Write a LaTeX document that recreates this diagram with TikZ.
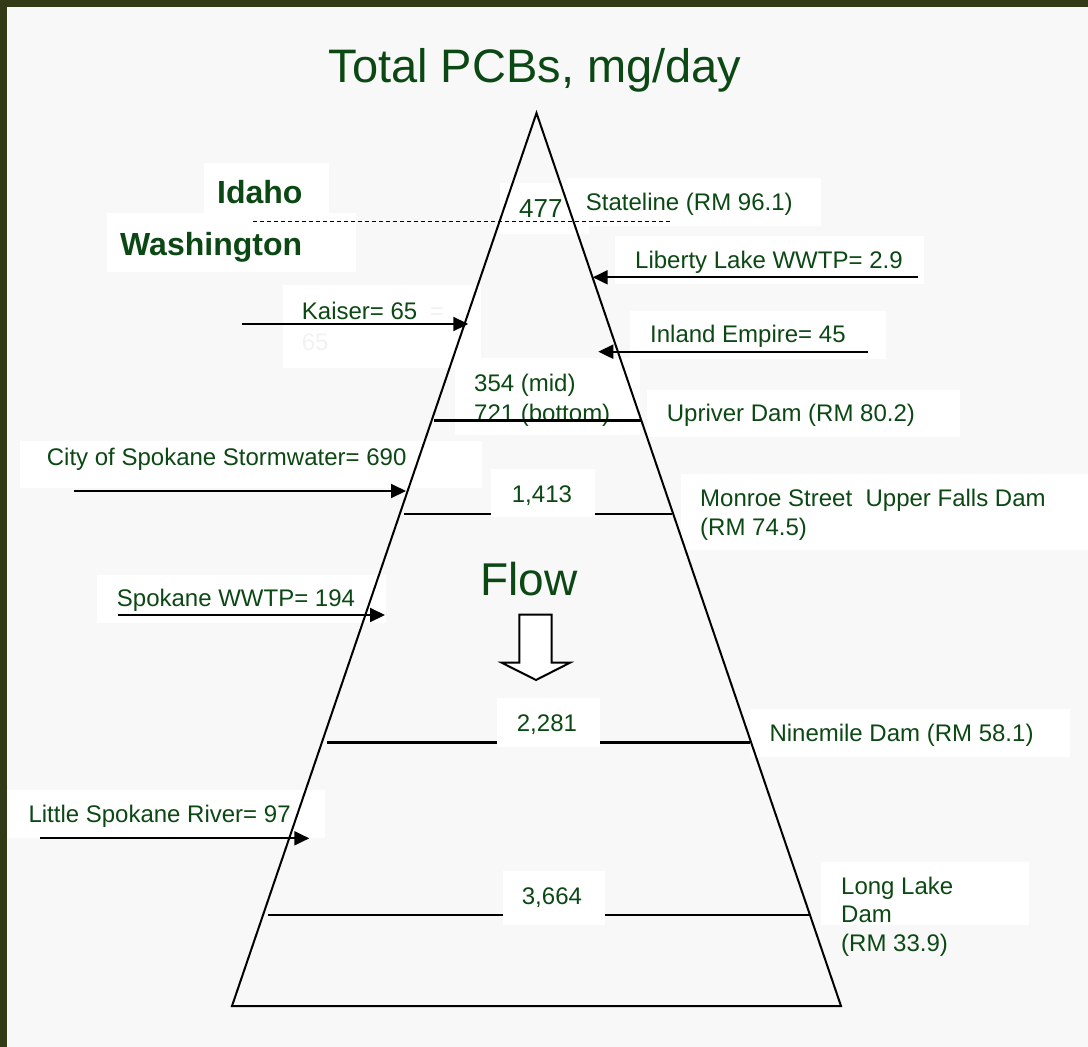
\documentclass[tikz,border=0pt]{standalone}
\usepackage{fontspec}
\setmainfont{Liberation Sans}
\usetikzlibrary{arrows.meta}
\definecolor{txt}{RGB}{12,72,20}
\definecolor{bord}{RGB}{50,58,24}
\definecolor{bg}{RGB}{248,248,248}
\definecolor{ghost}{RGB}{242,242,242}
\begin{document}
\begin{tikzpicture}[x=1pt,y=-1pt,
 lbl/.style={anchor=base west,inner sep=0pt,text=txt,font=\fontsize{24}{28}\selectfont},
 statelbl/.style={anchor=base west,inner sep=0pt,text=txt,font=\fontsize{32}{36}\selectfont\bfseries},
 ghostlbl/.style={anchor=base west,inner sep=0pt,text=ghost,font=\fontsize{24}{28}\selectfont},
 whitebox/.style={fill=white,draw=none},
 inflow/.style={line width=2pt,-{Triangle[length=15pt,width=14pt]}},
 damthick/.style={line width=3pt},
 damthin/.style={line width=2pt},
 side/.style={line width=2pt,line join=miter},
]
\useasboundingbox (0,0) rectangle (1088,1047);
\fill[bord] (0,0) rectangle (1088,1047);
\fill[bg] (7,7) rectangle (1088,1047);

% triangle corners
\coordinate (apex) at (536.5,113);
\coordinate (bl) at (232,1006);
\coordinate (br) at (841,1006);

% dam lines lying behind the number boxes
\coordinate (m1) at (404,514.3);  \coordinate (m2) at (672,514.3);
\coordinate (n1) at (327,742.7);  \coordinate (n2) at (750,742.7);
\coordinate (l1) at (268,915);    \coordinate (l2) at (809,915);
\draw[damthin] (m1) -- (m2);
\draw[damthick] (n1) -- (n2);
\draw[damthin] (l1) -- (l2);

% white text boxes
\fill[whitebox] (204,163) rectangle (329,213);   % Idaho
\fill[whitebox] (107,213) rectangle (356,272);   % Washington
\fill[whitebox] (500,183) rectangle (589,234);   % 477
\fill[whitebox] (566,178) rectangle (821,226);   % Stateline
\fill[whitebox] (615,236) rectangle (924,284);   % Liberty
\fill[whitebox] (283,285) rectangle (481,368);   % Kaiser
\fill[whitebox] (630,311) rectangle (886,359);   % Inland
\fill[whitebox] (455,358) rectangle (640,435);   % 354/721
\fill[whitebox] (647,390) rectangle (960,437);   % Upriver
\fill[whitebox] (20,441) rectangle (482,488);    % City
\fill[whitebox] (491,469) rectangle (595,517);   % 1,413
\fill[whitebox] (681,474) rectangle (1088,550);  % Monroe
\fill[whitebox] (97,575) rectangle (386,623);    % Spokane WWTP
\fill[whitebox] (497,698) rectangle (600,747);   % 2,281
\fill[whitebox] (750,709) rectangle (1070,757);  % Ninemile
\fill[whitebox] (7,790) rectangle (325,838);     % Little Spokane
\fill[whitebox] (503,871) rectangle (605,925);   % 3,664
\fill[whitebox] (821,862) rectangle (1029,925);  % Long Lake

% texts
\node[anchor=base,inner sep=0pt,text=txt,font=\fontsize{47}{54}\selectfont] (title) at (535,82) {Total PCBs, mg/day};
\node[statelbl] (idaho) at (217,203.3) {Idaho};
\node[statelbl] (wash) at (120,255) {Washington};
\node[lbl,font=\fontsize{26}{30}\selectfont] (v477) at (519,217) {477};
\node[lbl] (stateline) at (585.7,210.7) {Stateline (RM 96.1)};
\node[lbl] (liberty) at (635,268.3) {Liberty Lake WWTP= 2.9};
\node[ghostlbl] (kghost1) at (430,319.3) {=};
\node[ghostlbl] (kghost2) at (301.7,350) {65};
\node[lbl] (kaiser) at (301.7,319.3) {Kaiser= 65};
\node[lbl] (inland) at (650,342.7) {Inland Empire= 45};
\node[lbl] (v354) at (474,391.7) {354 (mid)};
\node[lbl] (v721) at (474,421.7) {721 (bottom)};
\node[lbl] (upriver) at (666.7,421.7) {Upriver Dam (RM 80.2)};
\node[lbl] (city) at (46.7,465) {City of Spokane Stormwater= 690};
\node[lbl] (v1413) at (511.7,502.3) {1,413};
\node[lbl] (monroe1) at (700,506.7) {Monroe Street\ \ Upper Falls Dam};
\node[lbl] (monroe2) at (700,535) {(RM 74.5)};
\node[anchor=base west,inner sep=0pt,text=txt,font=\fontsize{46}{52}\selectfont] (flow) at (480,595) {Flow};
\node[lbl] (spokane) at (116.7,606.7) {Spokane WWTP= 194};
\node[lbl] (v2281) at (516.7,731.7) {2,281};
\node[lbl] (ninemile) at (769.3,741.7) {Ninemile Dam (RM 58.1)};
\node[lbl] (little) at (28.3,822.7) {Little Spokane River= 97};
\node[lbl] (v3664) at (521.7,904) {3,664};
\node[lbl] (long1) at (841,894.3) {Long Lake};
\node[lbl] (long2) at (841,922.7) {Dam};
\node[lbl] (long3) at (841,951.7) {(RM 33.9)};

% triangle
\draw[side] (apex) -- (bl) -- (br) -- cycle;

% Upriver dam line (over the text)
\coordinate (u1) at (434,420);  \coordinate (u2) at (641,420);
\draw[damthick] (u1) -- (u2);

% state line
\coordinate (s1) at (253,221.5); \coordinate (s2) at (670,221.5);
\draw[line width=1pt,dash pattern=on 4pt off 3pt] (s1) -- (s2);

% inflow arrows
\coordinate (kaS) at (241.7,324);   \coordinate (kaE) at (468.3,324);
\coordinate (liS) at (918,277.3);   \coordinate (liE) at (592.7,277.3);
\coordinate (inS) at (867.7,351.7); \coordinate (inE) at (598.3,351.7);
\coordinate (ciS) at (74,491);      \coordinate (ciE) at (406,491);
\coordinate (spS) at (118,615);     \coordinate (spE) at (385,615);
\coordinate (lsS) at (40,838.3);    \coordinate (lsE) at (309.3,838.3);
\draw[inflow] (kaS) -- (kaE);
\draw[inflow] (liS) -- (liE);
\draw[inflow] (inS) -- (inE);
\draw[inflow] (ciS) -- (ciE);
\draw[inflow] (spS) -- (spE);
\draw[inflow] (lsS) -- (lsE);

% flow block arrow
\draw[line width=2pt,fill=white,line join=miter]
  (519.3,614.7) -- (551.7,614.7) -- (551.7,662.7) -- (570,662.7)
  -- (536,680) -- (501.7,662.7) -- (519.3,662.7) -- cycle;
\end{tikzpicture}
\end{document}
